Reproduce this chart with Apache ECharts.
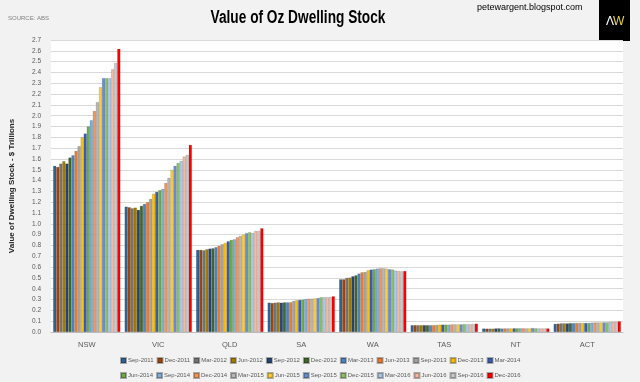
<!DOCTYPE html>
<html>
<head>
<meta charset="utf-8">
<script src="https://cdn.jsdelivr.net/npm/echarts@6/dist/echarts.min.js"></script>
<style>
html,body{margin:0;padding:0;background:#f2f2f2;}
#c{width:640px;height:382px;}
</style>
</head>
<body>
<div id="c"></div>
<script>
var categories = ['NSW','VIC','QLD','SA','WA','TAS','NT','ACT'];
var quarters = ['Sep-2011','Dec-2011','Mar-2012','Jun-2012','Sep-2012','Dec-2012','Mar-2013','Jun-2013','Sep-2013','Dec-2013','Mar-2014','Jun-2014','Sep-2014','Dec-2014','Mar-2015','Jun-2015','Sep-2015','Dec-2015','Mar-2016','Jun-2016','Sep-2016','Dec-2016'];
var NSW = [1.536,1.526,1.557,1.579,1.557,1.613,1.634,1.674,1.718,1.800,1.835,1.900,1.958,2.044,2.125,2.264,2.347,2.347,2.347,2.430,2.486,2.618];
var VIC = [1.159,1.153,1.144,1.150,1.129,1.166,1.184,1.200,1.230,1.277,1.295,1.311,1.323,1.378,1.425,1.499,1.536,1.563,1.582,1.622,1.637,1.730];
var QLD = [0.759,0.759,0.756,0.765,0.771,0.774,0.784,0.796,0.811,0.823,0.839,0.851,0.857,0.876,0.888,0.900,0.913,0.922,0.916,0.934,0.934,0.959];
var SA  = [0.271,0.268,0.271,0.274,0.271,0.274,0.274,0.274,0.287,0.293,0.296,0.299,0.305,0.308,0.308,0.311,0.314,0.321,0.321,0.321,0.324,0.330];
var WA  = [0.487,0.487,0.500,0.503,0.515,0.524,0.540,0.552,0.555,0.571,0.577,0.580,0.586,0.589,0.589,0.586,0.580,0.577,0.567,0.564,0.561,0.564];
var TAS = [0.063,0.063,0.063,0.063,0.063,0.063,0.063,0.063,0.065,0.068,0.068,0.068,0.068,0.070,0.070,0.070,0.070,0.072,0.072,0.072,0.072,0.077];
var NT  = [0.032,0.031,0.031,0.031,0.033,0.034,0.032,0.033,0.033,0.033,0.034,0.034,0.034,0.034,0.033,0.033,0.036,0.034,0.033,0.033,0.033,0.033];
var ACT = [0.075,0.077,0.080,0.080,0.079,0.082,0.082,0.083,0.083,0.083,0.083,0.083,0.086,0.088,0.088,0.088,0.089,0.089,0.093,0.094,0.094,0.098];
var colors = ['#2f6496','#9e480e','#767676','#a67c00','#264478','#43682b','#4a86c5','#ed7d31','#a5a5a5','#ffc000','#3a5fb0','#70ad47','#7cafdd','#f1975a','#b7b7b7','#ffcd33','#698ed0','#8cc168','#a9c9ea','#f4b9a0','#c9c9c9','#ff0000'];

var regions = [NSW,VIC,QLD,SA,WA,TAS,NT,ACT];
var series = quarters.map(function(q, i){
  return {
    name: q, type: 'bar',
    data: regions.map(function(r){ return r[i]; }),
    itemStyle: {color: colors[i], borderColor: 'rgba(0,0,0,0.3)', borderWidth: 0.4},
    barGap: '0%', barCategoryGap: '6%',
    animation: false
  };
});
var font = "'Liberation Sans',sans-serif";
var legendBase = {
  left: 120, itemWidth: 5, itemHeight: 5, itemGap: 3, icon: 'rect', padding: 0,
  textStyle: {fontFamily: font, fontSize: 6, color: '#595959', padding: [0, 0, 0, -3]}
};
var chart = echarts.init(document.getElementById('c'), null, {renderer: 'canvas'});
chart.setOption({
  backgroundColor: '#f2f2f2',
  color: colors,
  animation: false,
  grid: {left: 50, right: 17, top: 40, bottom: 50, show: true, backgroundColor: '#ffffff', borderWidth: 0},
  legend: [
    Object.assign({}, legendBase, {top: 357, data: quarters.slice(0, 11)}),
    Object.assign({}, legendBase, {top: 372, data: quarters.slice(11)})
  ],
  xAxis: {
    type: 'category', data: categories,
    axisTick: {show: false},
    axisLine: {lineStyle: {color: '#bfbfbf'}},
    axisLabel: {fontFamily: font, fontSize: 7.5, color: '#595959', margin: 9}
  },
  yAxis: {
    type: 'value', min: 0, max: 2.7, interval: 0.1,
    name: 'Value of Dwelling Stock - $ Trillions',
    nameLocation: 'middle', nameRotate: 90, nameGap: 35,
    nameTextStyle: {fontFamily: font, fontSize: 8, fontWeight: 'bold', color: '#262626'},
    axisLine: {show: false}, axisTick: {show: false},
    axisLabel: {fontFamily: font, fontSize: 6.5, color: '#595959', margin: 10,
      formatter: function(v){ return v.toFixed(1); }},
    splitLine: {lineStyle: {color: '#d9d9d9', width: 1}}
  },
  graphic: [
    {type: 'text', x: 298, y: 9, scaleX: 0.76, scaleY: 1,
     style: {text: 'Value of Oz Dwelling Stock', align: 'center', font: "bold 18px 'Liberation Sans',sans-serif", fill: '#000'}},
    {type: 'text', left: 8, top: 15, style: {text: 'SOURCE: ABS', font: "6px " + font, fill: '#7f7f7f'}},
    {type: 'text', left: 477, top: 3, style: {text: 'petewargent.blogspot.com', font: "9px 'Liberation Sans',sans-serif", fill: '#000'}},
    {type: 'rect', shape: {x: 599, y: 0, width: 31, height: 41}, style: {fill: '#000'}},
    {type: 'text', left: 606, top: 16, style: {text: 'Λ', font: "12px 'Liberation Sans',sans-serif", fill: '#fff'}},
    {type: 'text', left: 613, top: 16, style: {text: 'W', font: "12px 'Liberation Sans',sans-serif", fill: '#e8d44d'}}
  ],
  series: series
});
</script>
</body>
</html>
